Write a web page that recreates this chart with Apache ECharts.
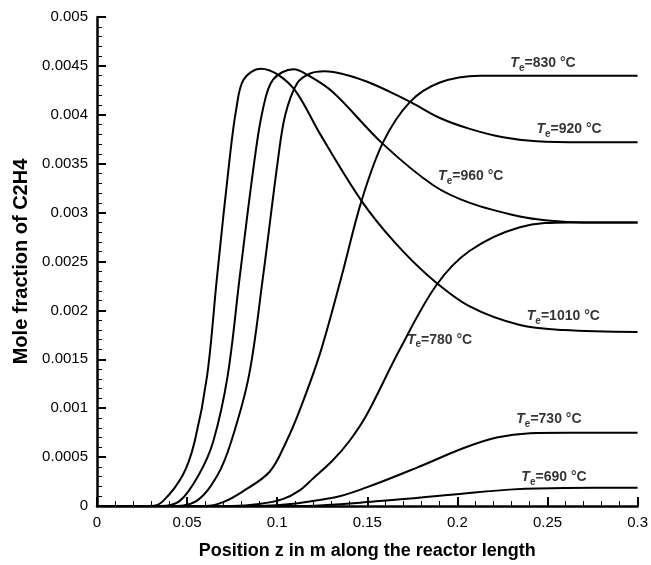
<!DOCTYPE html>
<html>
<head>
<meta charset="utf-8">
<script src="https://cdn.jsdelivr.net/npm/echarts@6/dist/echarts.min.js"></script>
<style>html,body{margin:0;padding:0;background:#fff}#c{width:651px;height:565px}</style>
</head>
<body>
<div id="c"></div>
<script>
// Te = 1010 °C
var x1010 = [0, 0.03, 0.0366, 0.0477, 0.0542, 0.0611, 0.0666, 0.0736, 0.0773, 0.0814, 0.0907, 0.1004, 0.1107, 0.1236, 0.1468, 0.165, 0.1847, 0.2069, 0.2347, 0.2588, 0.3];
var y1010 = [0, 0, 0.00005, 0.00032, 0.00066, 0.00133, 0.00234, 0.00355, 0.00406, 0.00436, 0.00447, 0.00441, 0.00423, 0.00381, 0.00312, 0.0027, 0.00234, 0.00204, 0.00185, 0.0018, 0.00178];
// Te = 960 °C
var x960 = [0, 0.035, 0.0458, 0.0565, 0.0645, 0.0725, 0.0792, 0.0875, 0.0921, 0.0977, 0.109, 0.1175, 0.131, 0.1588, 0.1866, 0.2069, 0.2347, 0.25, 0.27, 0.3];
var y960 = [0, 0, 0.00005, 0.00032, 0.00066, 0.00133, 0.00234, 0.00355, 0.00406, 0.00436, 0.004465, 0.0044, 0.00423, 0.0037, 0.00328, 0.0031, 0.00296, 0.00292, 0.0029, 0.0029];
// Te = 920 °C
var x920 = [0, 0.04, 0.0551, 0.067, 0.0745, 0.0843, 0.0921, 0.1005, 0.1045, 0.111, 0.118, 0.1264, 0.138, 0.1496, 0.162, 0.1746, 0.19, 0.2069, 0.2254, 0.244, 0.27, 0.3];
var y920 = [0, 0, 0.00005, 0.00032, 0.00066, 0.00133, 0.00234, 0.00355, 0.004, 0.00432, 0.00442, 0.004445, 0.00441, 0.00434, 0.00424, 0.004125, 0.00397, 0.003856, 0.00377, 0.00373, 0.00372, 0.00372];
// Te = 830 °C
var x830 = [0, 0.06, 0.07, 0.081, 0.0958, 0.1051, 0.1125, 0.1236, 0.1356, 0.1468, 0.1588, 0.1736, 0.1903, 0.2125, 0.244, 0.3];
var y830 = [0, 0, 0.00004, 0.00015, 0.00035, 0.00066, 0.00098, 0.00155, 0.00234, 0.00312, 0.00372, 0.00413, 0.00433, 0.0044, 0.0044, 0.0044];
// Te = 780 °C
var x780 = [0, 0.075, 0.09, 0.103, 0.1125, 0.1198, 0.131, 0.1403, 0.1496, 0.168, 0.1884, 0.2069, 0.2347, 0.2625, 0.3];
var y780 = [0, 0, 0.00002, 0.00007, 0.00016, 0.00028, 0.00047, 0.00067, 0.00093, 0.0016, 0.00226, 0.00261, 0.00285, 0.0029, 0.0029];
// Te = 730 °C
var x730 = [0, 0.09, 0.131, 0.1496, 0.1773, 0.2032, 0.2218, 0.2403, 0.26, 0.3];
var y730 = [0, 0, 0.000085, 0.00019, 0.00039, 0.00059, 0.0007, 0.000745, 0.00075, 0.00075];
// Te = 690 °C
var x690 = [0, 0.11, 0.157, 0.1995, 0.231, 0.26, 0.3];
var y690 = [0, 0, 0.00005, 0.00012, 0.00017, 0.000185, 0.000186];

var labelTemps = ['830', '920', '960', '1010', '780', '730', '690'];
var labelX = [0.2475, 0.262, 0.2074, 0.2588, 0.1901, 0.2508, 0.2536];
var labelY = [0.00453, 0.003856, 0.003374, 0.001943, 0.0017, 0.000886, 0.000293];

var xTicks = {min: 0, max: 0.3, interval: 0.05};
var yTicks = {min: 0, max: 0.005, interval: 0.0005};

function pairs(xs, ys) { return xs.map(function (x, i) { return [x, ys[i]]; }); }

var curves = [[x1010, y1010], [x960, y960], [x920, y920], [x830, y830], [x780, y780], [x730, y730], [x690, y690]];
var series = curves.map(function (c) {
  return {
    type: 'line', data: pairs(c[0], c[1]), showSymbol: false, smooth: 0.35,
    lineStyle: {color: '#000', width: 2}, silent: true, z: 2
  };
});
series.push({
  type: 'scatter', symbolSize: 0, silent: true, z: 5,
  data: labelX.map(function (x, i) { return [x, labelY[i], labelTemps[i]]; }),
  label: {
    show: true, position: 'inside',
    formatter: function (p) { return '{t|T}{s|e}{n|=' + p.data[2] + ' °C}'; },
    rich: {
      t: {fontFamily: 'Liberation Sans', fontSize: 14, fontWeight: 'bold', fontStyle: 'italic', color: '#000', lineHeight: 20, verticalAlign: 'middle'},
      s: {fontFamily: 'Liberation Sans', fontSize: 10, fontWeight: 'bold', color: '#000', lineHeight: 20, verticalAlign: 'bottom'},
      n: {fontFamily: 'Liberation Sans', fontSize: 14, fontWeight: 'bold', color: '#000', lineHeight: 20, verticalAlign: 'middle'}
    }
  }
});

function fmt(v) { return String(parseFloat(v.toPrecision(6))); }

var chart = echarts.init(document.getElementById('c'), null, {renderer: 'canvas'});
chart.setOption({
  animation: false,
  backgroundColor: '#fff',
  grid: {left: 97, right: 13, top: 17, bottom: 53, containLabel: false},
  xAxis: {
    type: 'value', min: xTicks.min, max: xTicks.max, interval: xTicks.interval,
    name: 'Position z in m along the reactor length', nameLocation: 'middle', nameGap: 36,
    nameTextStyle: {fontFamily: 'Liberation Sans', fontSize: 18, fontWeight: 'bold', color: '#000'},
    axisLine: {show: true, lineStyle: {color: '#000', width: 2.5}},
    axisTick: {show: true, inside: true, length: 9, lineStyle: {color: '#000', width: 2}},
    minorTick: {show: true, splitNumber: 5, length: 5, lineStyle: {color: '#000', width: 1}},
    axisLabel: {formatter: fmt, fontFamily: 'Liberation Sans', fontSize: 15, color: '#000', margin: 9},
    splitLine: {show: false}
  },
  yAxis: {
    type: 'value', min: yTicks.min, max: yTicks.max, interval: yTicks.interval,
    name: 'Mole fraction of C2H4', nameLocation: 'middle', nameGap: 60,
    nameTextStyle: {fontFamily: 'Liberation Sans', fontSize: 20, fontWeight: 'bold', color: '#000'},
    axisLine: {show: true, lineStyle: {color: '#000', width: 2.5}},
    axisTick: {show: true, inside: true, length: 9, lineStyle: {color: '#000', width: 2}},
    minorTick: {show: true, splitNumber: 5, length: 5, lineStyle: {color: '#000', width: 1}},
    axisLabel: {formatter: fmt, fontFamily: 'Liberation Sans', fontSize: 15, color: '#000', margin: 9},
    splitLine: {show: false}
  },
  series: series
});
</script>
</body>
</html>
